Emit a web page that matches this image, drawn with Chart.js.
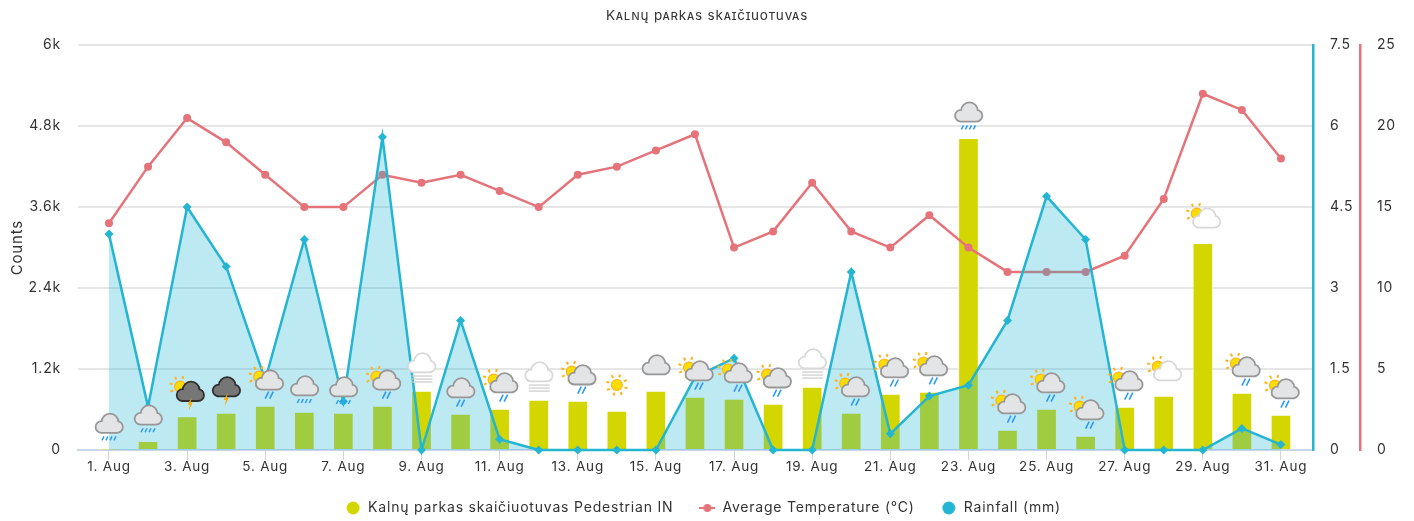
<!DOCTYPE html>
<html>
<head>
<meta charset="utf-8">
<style>
  html, body { margin: 0; padding: 0; background: #fff; }
  canvas { display: block; }
</style>
<script src="https://cdn.jsdelivr.net/npm/chart.js@4"></script>
</head>
<body>
<canvas id="myChart" width="1414" height="521"></canvas>
<script>
const categories = ["1. Aug","2. Aug","3. Aug","4. Aug","5. Aug","6. Aug","7. Aug","8. Aug","9. Aug","10. Aug","11. Aug","12. Aug","13. Aug","14. Aug","15. Aug","16. Aug","17. Aug","18. Aug","19. Aug","20. Aug","21. Aug","22. Aug","23. Aug","24. Aug","25. Aug","26. Aug","27. Aug","28. Aug","29. Aug","30. Aug","31. Aug"];
const pedestrians = [8,130,495,548,650,563,548,650,874,533,607,740,725,578,874,785,755,680,933,548,830,860,4620,296,607,207,637,800,3065,844,518];
const temperature = [14,17.5,20.5,19,17,15,15,17,16.5,17,16,15,17,17.5,18.5,19.5,12.5,13.5,16.5,13.5,12.5,14.5,12.5,11,11,11,12,15.5,22,21,18];
const rainfall = [4,0.8,4.5,3.4,1.3,3.9,0.9,5.8,0,2.4,0.2,0,0,0,0,1.35,1.7,0,0,3.3,0.3,1,1.2,2.4,4.7,3.9,0,0,0,0.4,0.1];
const weather = ["rain","rain","sunstorm","storm","sunshower","rain","rain","sunshower","fog","shower","sunshower","fog","sunshower","sun","cloud","sunshower","sunshower","sunshower","fog","sunshower","sunshower","sunshower","rain","sunshower","sunshower","sunshower","sunshower","suncloud","suncloud","sunshower","sunshower"];
const countTicks = ["0","1.2k","2.4k","3.6k","4.8k","6k"];
const legendNames = ["Kalnų parkas skaičiuotuvas Pedestrian IN","Average Temperature (°C)","Rainfall (mm)"];

const barColor = "#d4d600";
const tempColor = "#e5737a";
const rainColor = "#24b5d3";
const fontName = "Inter, sans-serif";

const cloud = (ctx, x, y, fill, edge) => {
  const shape = () => {
    ctx.beginPath();
    ctx.arc(x - 7.5, y + 3.5, 5, 0, Math.PI * 2);
    ctx.moveTo(x + 8.5, y - 1.5);
    ctx.arc(x + 1, y - 1.5, 7.5, 0, Math.PI * 2);
    ctx.moveTo(x + 13, y + 3.5);
    ctx.arc(x + 8, y + 3.5, 5, 0, Math.PI * 2);
    ctx.rect(x - 7.5, y, 15.5, 8.5);
  };
  ctx.strokeStyle = edge;
  ctx.lineWidth = 3.6;
  shape();
  ctx.stroke();
  ctx.fillStyle = fill;
  shape();
  ctx.fill();
};

const sun = (ctx, x, y) => {
  ctx.strokeStyle = "#ffb31a";
  ctx.lineWidth = 2;
  for (let i = 0; i < 8; i++) {
    const a = i * Math.PI / 4 + 0.3;
    ctx.beginPath();
    ctx.moveTo(x + Math.cos(a) * 8, y + Math.sin(a) * 8);
    ctx.lineTo(x + Math.cos(a) * 11, y + Math.sin(a) * 11);
    ctx.stroke();
  }
  ctx.fillStyle = "#ffdd00";
  ctx.beginPath();
  ctx.arc(x, y, 5.5, 0, Math.PI * 2);
  ctx.fill();
  ctx.lineWidth = 1.2;
  ctx.stroke();
};

const drops = (ctx, x, y, count) => {
  ctx.strokeStyle = "#2e9af5";
  ctx.lineWidth = count === 2 ? 1.6 : 1.5;
  const len = count === 2 ? 3.5 : 2;
  const gap = count === 2 ? 4.5 : 4;
  for (let i = 0; i < count; i++) {
    const dx = x + (i - (count - 1) / 2) * gap;
    ctx.beginPath();
    ctx.moveTo(dx - len / 2, y + len);
    ctx.lineTo(dx + len / 2, y - len);
    ctx.stroke();
  }
};

const bolt = (ctx, x, y) => {
  ctx.fillStyle = "#ffa800";
  ctx.beginPath();
  ctx.moveTo(x + 1.5, y - 6);
  ctx.lineTo(x - 2.5, y + 1);
  ctx.lineTo(x - 0.3, y + 1);
  ctx.lineTo(x - 1.3, y + 7);
  ctx.lineTo(x + 2.5, y - 1);
  ctx.lineTo(x + 0.4, y - 1);
  ctx.closePath();
  ctx.fill();
};

const fogBars = (ctx, x, y) => {
  ctx.strokeStyle = "#cfcfcf";
  ctx.lineWidth = 1.3;
  [0, 3, 6].forEach((d) => {
    ctx.beginPath();
    ctx.moveTo(x - 10, y + d);
    ctx.lineTo(x + 11, y + d);
    ctx.stroke();
  });
};

const drawIcon = (ctx, kind, x, y) => {
  const grey = "#e3e4e6", greyEdge = "#979797";
  if (kind === "rain") {
    cloud(ctx, x, y, grey, greyEdge);
    drops(ctx, x, y + 15, 4);
  } else if (kind === "shower") {
    cloud(ctx, x, y, grey, greyEdge);
    drops(ctx, x, y + 15, 2);
  } else if (kind === "cloud") {
    cloud(ctx, x, y, grey, greyEdge);
  } else if (kind === "storm") {
    cloud(ctx, x, y, "#767676", "#2f2f2f");
    bolt(ctx, x, y + 12);
  } else if (kind === "sunstorm") {
    sun(ctx, x - 7, y - 4);
    cloud(ctx, x + 3, y + 1, "#767676", "#2f2f2f");
    bolt(ctx, x + 3, y + 13);
  } else if (kind === "sunshower") {
    sun(ctx, x - 6, y - 3.5);
    cloud(ctx, x + 4, y, grey, greyEdge);
    drops(ctx, x + 4, y + 15, 2);
  } else if (kind === "suncloud") {
    sun(ctx, x - 6, y - 3.5);
    cloud(ctx, x + 3.5, y + 1, "#ffffff", "#d8d8d8");
  } else if (kind === "fog") {
    cloud(ctx, x, y - 2, "#ffffff", "#d8d8d8");
    fogBars(ctx, x, y + 11);
  } else if (kind === "sun") {
    sun(ctx, x, y);
  }
};

// weather pictures sit a fixed distance above their bar
const weatherIcons = {
  id: "weatherIcons",
  afterDatasetsDraw(chart) {
    const ctx = chart.ctx;
    ctx.save();
    weather.forEach((kind, i) => {
      const x = chart.scales.x.getPixelForValue(i + 1);
      const y = chart.scales.y.getPixelForValue(pedestrians[i]) - 26;
      drawIcon(ctx, kind, x, y);
    });
    ctx.restore();
  },
};

// the original face runs wider than anything installed
const wideText = {
  id: "wideText",
  beforeUpdate(chart) { chart.ctx.letterSpacing = "0.8px"; },
  beforeDraw(chart) { chart.ctx.letterSpacing = "0.8px"; },
};

const nudgeLegend = {
  id: "nudgeLegend",
  afterLayout(chart) {
    chart.legend.left -= 4;
    chart.legend.right -= 4;
    chart.legend.top += 1;
    chart.legend.bottom += 1;
  },
};

const legendMark = (color, withLine) => {
  const mark = document.createElement("canvas");
  mark.width = 16;
  mark.height = 14;
  const c = mark.getContext("2d");
  c.fillStyle = color;
  if (withLine) c.fillRect(0, 6, 16, 2);
  c.beginPath();
  c.arc(8, 7, withLine ? 4 : 6.5, 0, Math.PI * 2);
  c.fill();
  return mark;
};

const points = (values) => values.map((v, i) => ({ x: i + 1, y: v }));

new Chart(document.getElementById("myChart"), {
  data: {
    datasets: [
      {
        type: "line",
        label: legendNames[2],
        data: points(rainfall),
        yAxisID: "yRain",
        order: 0,
        borderColor: rainColor,
        borderWidth: 2.5,
        tension: 0,
        fill: "origin",
        backgroundColor: "rgba(36, 181, 211, 0.3)",
        pointStyle: "rectRot",
        pointRadius: 4.5,
        pointBackgroundColor: rainColor,
        pointBorderWidth: 0,
        clip: false,
      },
      {
        type: "line",
        label: legendNames[1],
        data: points(temperature),
        yAxisID: "yTemp",
        order: 1,
        borderColor: tempColor,
        borderWidth: 2.5,
        tension: 0,
        fill: false,
        pointStyle: "circle",
        pointRadius: 4,
        pointBackgroundColor: tempColor,
        pointBorderWidth: 0,
        clip: false,
      },
      {
        type: "bar",
        label: legendNames[0],
        data: points(pedestrians),
        yAxisID: "y",
        order: 2,
        backgroundColor: barColor,
        borderColor: "rgba(255, 255, 255, 0.7)",
        borderWidth: 1,
        barThickness: 20,
      },
    ],
  },
  options: {
    responsive: false,
    animation: false,
    layout: { padding: { left: 0, right: 0, top: 0, bottom: -3 } },
    plugins: {
      tooltip: { enabled: false },
      title: {
        display: true,
        text: "Kalnų parkas skaičiuotuvas",
        color: "#333333",
        font: { family: fontName, size: 13.5, weight: "small-caps" },
        padding: { top: 8, bottom: 21 },
      },
      legend: {
        position: "bottom",
        labels: {
          color: "#333333",
          font: { family: fontName, size: 14 },
          usePointStyle: true,
          boxHeight: 9,
          pointStyleWidth: 16,
          padding: 26,
          generateLabels: () => [
            { text: legendNames[0], fillStyle: barColor, strokeStyle: barColor, lineWidth: 0, pointStyle: legendMark(barColor, false), fontColor: "#333333" },
            { text: legendNames[1], fillStyle: tempColor, strokeStyle: tempColor, lineWidth: 0, pointStyle: legendMark(tempColor, true), fontColor: "#333333" },
            { text: legendNames[2], fillStyle: rainColor, strokeStyle: rainColor, lineWidth: 0, pointStyle: legendMark(rainColor, false), fontColor: "#333333" },
          ],
        },
      },
    },
    scales: {
      x: {
        type: "linear",
        min: 0.207,
        max: 31.82,
        offset: false,
        grid: { offset: false, drawOnChartArea: false, tickLength: 10, tickColor: "#ccd6eb", tickWidth: 1 },
        border: { color: "#ccd6eb", width: 2 },
        afterBuildTicks: (scale) => {
          scale.ticks = categories.map((c, i) => ({ value: i + 1 })).filter((t) => t.value % 2 === 1);
        },
        afterFit: (scale) => { scale.height = 24; },
        ticks: {
          autoSkip: false,
          maxRotation: 0,
          padding: -1,
          color: "#333333",
          font: { family: fontName, size: 13.5 },
          callback: (v) => categories[v - 1],
        },
      },
      y: {
        position: "left",
        min: 0,
        max: 6000,
        title: {
          display: true,
          text: "Counts",
          color: "#333333",
          font: { family: fontName, size: 15 },
          padding: { top: 8, bottom: 0 },
        },
        afterFit: (scale) => { scale.width = 78; },
        grid: { color: "#e6e6e6", lineWidth: 2, drawTicks: false },
        border: { display: false },
        ticks: {
          stepSize: 1200,
          padding: 17,
          color: "#333333",
          font: { family: fontName, size: 14 },
          callback: (v) => countTicks[v / 1200],
        },
      },
      yRain: {
        position: "right",
        min: 0,
        max: 7.5,
        afterFit: (scale) => { scale.width = 47; },
        grid: { drawOnChartArea: false, drawTicks: false },
        border: { color: rainColor, width: 2.5 },
        ticks: {
          stepSize: 1.5,
          padding: 17,
          color: "#333333",
          font: { family: fontName, size: 14 },
        },
      },
      yTemp: {
        position: "right",
        min: 0,
        max: 25,
        afterFit: (scale) => { scale.width = 54; },
        grid: { drawOnChartArea: false, drawTicks: false },
        border: { color: tempColor, width: 2.5 },
        ticks: {
          stepSize: 5,
          padding: 17,
          color: "#333333",
          font: { family: fontName, size: 14 },
        },
      },
    },
  },
  plugins: [wideText, nudgeLegend, weatherIcons],
});
</script>
</body>
</html>
